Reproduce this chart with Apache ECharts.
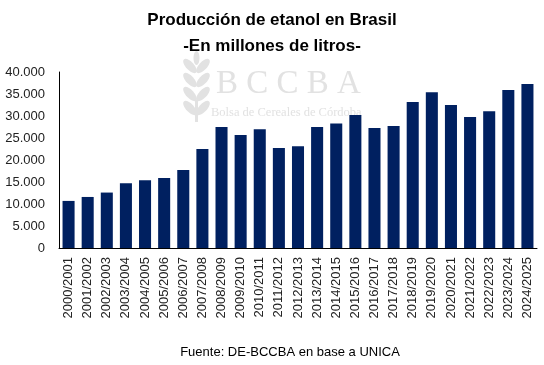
<!DOCTYPE html>
<html>
<head>
<meta charset="utf-8">
<script src="https://cdn.jsdelivr.net/npm/echarts@6/dist/echarts.min.js"></script>
<style>html,body{margin:0;padding:0;background:#fff;}#c{width:544px;height:365px;}</style>
</head>
<body>
<div id="c"></div>
<script>
const categories = ['2000/2001','2001/2002','2002/2003','2003/2004','2004/2005','2005/2006','2006/2007','2007/2008','2008/2009','2009/2010','2010/2011','2011/2012','2012/2013','2013/2014','2014/2015','2015/2016','2016/2017','2017/2018','2018/2019','2019/2020','2020/2021','2021/2022','2022/2023','2023/2024','2024/2025'];
const production = [10700,11600,12600,14700,15400,15900,17700,22500,27500,25700,27000,22700,23100,27500,28300,30200,27300,27700,33200,35400,32500,29800,31100,35900,37300];
const yTicks = [0,5000,10000,15000,20000,25000,30000,35000,40000];

const chart = echarts.init(document.getElementById('c'));
const fmt = v => v === 0 ? '0' : String(v).replace(/\B(?=(\d{3})+(?!\d))/g, '.');
const wm = '#e2e2e2';
const leaves = [];
[[0,0],[1,14],[2,28],[3,42]].forEach(([i,dy]) => {
  leaves.push({type:'ellipse', z:-1, silent:true, shape:{cx:0,cy:0,rx:4,ry:9}, x:190, y:66+dy, rotation:0.75, style:{fill:wm}});
  leaves.push({type:'ellipse', z:-1, silent:true, shape:{cx:0,cy:0,rx:4,ry:9}, x:203, y:66+dy, rotation:-0.75, style:{fill:wm}});
});
chart.setOption({
  animation: false,
  title: [
    {text: 'Producción de etanol en Brasil', left: 'center', top: 7, textStyle: {fontFamily: 'Liberation Sans', fontWeight: 'bold', fontSize: 17, color: '#000'}},
    {text: '-En millones de litros-', left: 'center', top: 33, textStyle: {fontFamily: 'Liberation Sans', fontWeight: 'bold', fontSize: 17, color: '#000'}}
  ],
  graphic: leaves.concat([
    {type: 'ellipse', z:-1, silent:true, shape:{cx:196.5, cy:58, rx:3, ry:7}, style:{fill:wm}},
    {type: 'rect', z:-1, silent:true, shape:{x:195, y:100, width:3, height:22}, style:{fill:wm}},
    {type: 'text', z: -1, silent: true, style: {x: 216, y: 68, text: 'B C C B A', font: '33px "Liberation Serif"', fill: wm}},
    {type: 'text', z: -1, silent: true, style: {x: 211, y: 106, text: 'Bolsa de Cereales de Córdoba', font: '12.5px "Liberation Serif"', fill: wm}},
    {type: 'text', style: {x: 290, y: 352, text: 'Fuente: DE-BCCBA en base a UNICA', font: '13px "Liberation Sans"', fill: '#000', align: 'center', verticalAlign: 'middle'}}
  ]),
  grid: {left: 59, right: 7, top: 72, bottom: 117, containLabel: false},
  xAxis: {
    type: 'category', data: categories,
    axisLine: {lineStyle: {color: '#000', width: 1}},
    axisTick: {show: false},
    axisLabel: {rotate: 90, fontFamily: 'Liberation Sans', fontSize: 13, color: '#222', interval: 0, margin: 9}
  },
  yAxis: {
    type: 'value', min: yTicks[0], max: yTicks[yTicks.length-1], interval: 5000,
    axisLine: {show: true, lineStyle: {color: '#000', width: 1}},
    axisTick: {show: false},
    splitLine: {show: false},
    axisLabel: {fontFamily: 'Liberation Sans', fontSize: 13, color: '#222', margin: 14, formatter: fmt}
  },
  series: [{
    type: 'bar', data: production, barCategoryGap: '37%',
    itemStyle: {color: '#002060'}
  }]
});
</script>
</body>
</html>
